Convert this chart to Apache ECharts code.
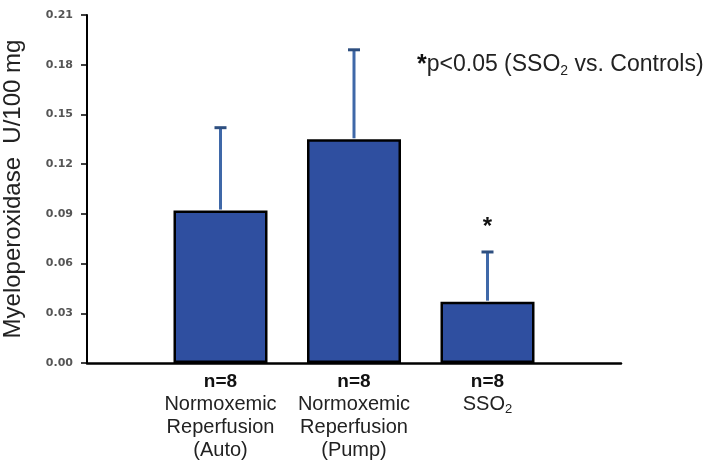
<!DOCTYPE html>
<html>
<head>
<meta charset="utf-8">
<script src="https://cdn.jsdelivr.net/npm/echarts@6/dist/echarts.min.js"></script>
<style>html,body{margin:0;padding:0;background:#fff;}#c{width:714px;height:468px;}</style>
</head>
<body>
<div id="c"></div>
<script>
// ---- data ----
var categories = ['Auto', 'Pump', 'SSO2'];
var groupN = ['n=8', 'n=8', 'n=8'];
var meanValues = [0.092, 0.135, 0.037];
var upperValues = [0.142, 0.189, 0.067];
var significance = ['', '', '*'];
var yTicks = [0, 0.03, 0.06, 0.09, 0.12, 0.15, 0.18, 0.21];

var labelText = {
  'Auto': '{t|Normoxemic}\n{t|Reperfusion}\n{t|(Auto)}',
  'Pump': '{t|Normoxemic}\n{t|Reperfusion}\n{t|(Pump)}',
  'SSO2': '{t|SSO}{s|2}'
};

// padded categories so bars sit on the ticks of a boundaryGap:false axis
var xCats = [''].concat(categories).concat(['']);
var barData = [null].concat(meanValues).concat([null]);
var errData = categories.map(function (c, i) { return [i + 1, meanValues[i], upperValues[i], significance[i]]; });

var FONT = '"Liberation Sans", Arial, sans-serif';
var chart = echarts.init(document.getElementById('c'));
chart.setOption({
  animation: false,
  backgroundColor: '#fff',
  title: {
    left: 412, top: 47,
    text: '{a|*}{b|p<0.05 (SSO}{c|2}{b| vs. Controls)}',
    textStyle: {
      fontWeight: 'normal',
      rich: {
        a: { fontFamily: FONT, fontSize: 25, fontWeight: 'bold', color: '#111', lineHeight: 26 },
        b: { fontFamily: FONT, fontSize: 23, fontWeight: 'normal', color: '#222', lineHeight: 26 },
        c: { fontFamily: FONT, fontSize: 14, fontWeight: 'normal', color: '#222', lineHeight: 14, verticalAlign: 'bottom' }
      }
    }
  },
  grid: { left: 87, right: 93, top: 15, bottom: 105, containLabel: false, outerBoundsMode: 'none' },
  xAxis: {
    type: 'category',
    data: xCats,
    boundaryGap: false,
    axisLine: { lineStyle: { color: '#000', width: 2.5 } },
    axisTick: { show: false },
    splitLine: { show: false },
    axisLabel: {
      interval: 0,
      margin: 7,
      formatter: function (v) {
        var i = categories.indexOf(v);
        if (i < 0) return '';
        return '{n|' + groupN[i] + '}\n' + labelText[v];
      },
      rich: {
        n: { fontFamily: FONT, fontSize: 19, fontWeight: 'bold', color: '#111', lineHeight: 23 },
        t: { fontFamily: FONT, fontSize: 20, color: '#222', lineHeight: 23 },
        s: { fontFamily: FONT, fontSize: 13, color: '#222', lineHeight: 12, verticalAlign: 'bottom' }
      }
    }
  },
  yAxis: {
    type: 'value',
    min: 0, max: 0.21, interval: 0.03,
    name: 'Myeloperoxidase  U/100 mg',
    nameLocation: 'middle',
    nameGap: 62,
    nameTextStyle: { fontFamily: FONT, fontSize: 24, color: '#222' },
    axisLine: { show: true, lineStyle: { color: '#000', width: 2 } },
    axisTick: { show: true, length: 6, lineStyle: { color: '#000', width: 1.5 } },
    splitLine: { show: false },
    axisLabel: {
      margin: 14,
      fontFamily: 'DejaVu Sans', fontSize: 11, fontWeight: 'bold', color: '#555',
      formatter: function (v) { return v.toFixed(2); }
    }
  },
  series: [
    {
      type: 'bar',
      data: barData,
      barWidth: 94,
      itemStyle: { color: '#2f4fa0', borderColor: '#000', borderWidth: 2.5 },
      z: 2
    },
    {
      type: 'custom',
      data: errData,
      z: 3,
      renderItem: function (params, api) {
        var x = api.value(0);
        var base = api.coord([x, api.value(1)]);
        var top = api.coord([x, api.value(2)]);
        var sig = api.value(3);
        var children = [
          { type: 'line', shape: { x1: base[0], y1: base[1] - 1, x2: top[0], y2: top[1] },
            style: { stroke: '#3f68a8', lineWidth: 3 } },
          { type: 'line', shape: { x1: top[0] - 6, y1: top[1], x2: top[0] + 6, y2: top[1] },
            style: { stroke: '#2e4f80', lineWidth: 3 } }
        ];
        if (sig) {
          children.push({ type: 'text', x: top[0], y: top[1] - 25,
            style: { text: sig, fontFamily: FONT, fontSize: 24, fontWeight: 'bold', fill: '#111', align: 'center', verticalAlign: 'middle' } });
        }
        return { type: 'group', children: children };
      }
    }
  ]
});
</script>
</body>
</html>
